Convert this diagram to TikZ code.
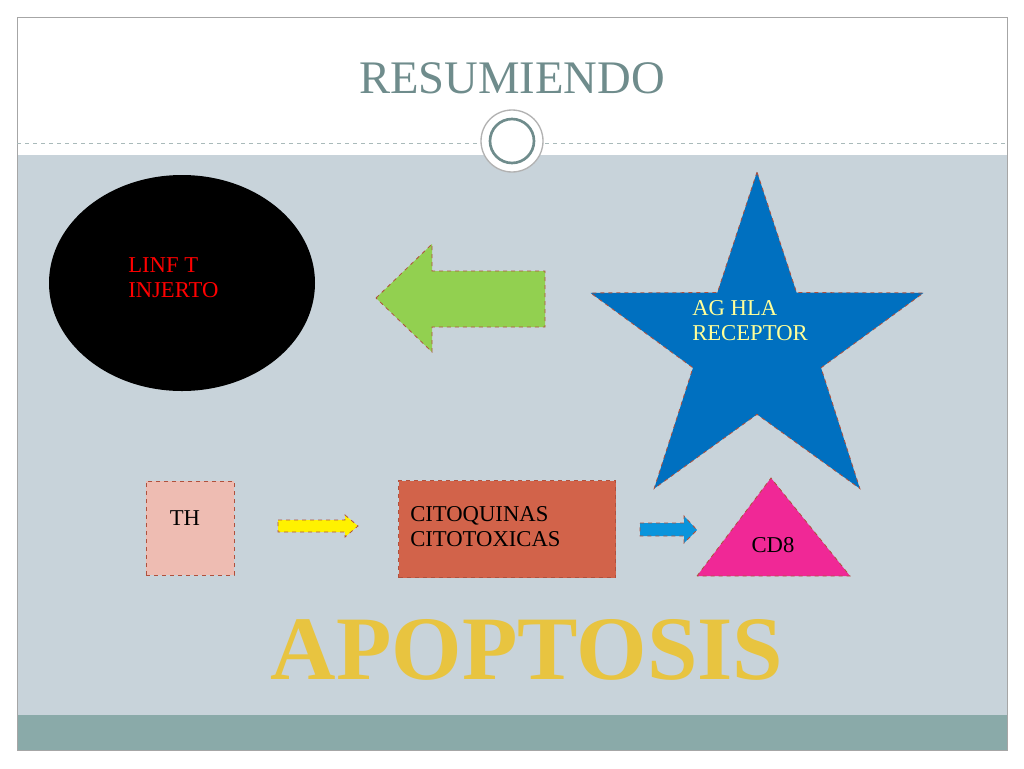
\documentclass[tikz,border=0pt]{standalone}
\usepackage{fontspec}
\setmainfont{Liberation Serif}
\usetikzlibrary{positioning, shapes.geometric}
\definecolor{titlegray}{HTML}{6F8C8C}
\definecolor{panel}{HTML}{C8D3DA}
\definecolor{band}{HTML}{8AAAA9}
\definecolor{edge}{HTML}{B0503C}
\definecolor{greenarr}{HTML}{92D050}
\definecolor{starblue}{HTML}{0070C0}
\definecolor{thpink}{HTML}{EEBCB2}
\definecolor{citored}{HTML}{D2634A}
\definecolor{cdpink}{HTML}{F02896}
\definecolor{gold}{HTML}{E8C440}
\definecolor{labyellow}{HTML}{FFFF99}
\tikzset{
  dashedge/.style={draw=edge, dashed, line width=0.6pt},
  label/.style={font=\fontsize{17}{19}\selectfont, align=left, inner sep=0pt}
}
\begin{document}
\begin{tikzpicture}[x=0.75pt, y=-0.75pt]
  \useasboundingbox (0,0) rectangle (1024,768);
  \fill[white] (0,0) rectangle (1024,768);
  % frame and panels
  \fill[panel] (17,155) rectangle (1007,715);
  \fill[band] (17,715) rectangle (1007,750);
  \draw[gray!70] (17,17) rectangle (1007,750);
  \draw[titlegray!60, dashed] (17,143) -- (1007,143);
  \node[titlegray, font=\fontsize{35}{38}\selectfont] (title) at (512,78) {RESUMIENDO};
  \draw[gray!60, fill=white, line width=1pt] (512,141) circle (31);
  \draw[titlegray, line width=2pt, fill=white] (512,141) circle (22);
  % black ellipse
  \node[ellipse, fill=black, minimum width=266*0.75pt, minimum height=216*0.75pt] (linf) at (182,283) {};
  \node[label, red, anchor=north west] (linftxt) at (128,257) {LINF T\\INJERTO};
  % green arrow
  \filldraw[fill=greenarr, dashedge] (376,298) -- (432,244) -- (432,271) -- (545,271)
     -- (545,327) -- (432,327) -- (432,352) -- cycle;
  % star
  \node[star, star points=5, star point ratio=2.6, fill=starblue, dashedge,
        minimum size=350*0.75pt, inner sep=0pt] (star) at (757,347) {};
  \node[label, labyellow, anchor=north west] (agtxt) at (692,300) {AG HLA\\RECEPTOR};
  % bottom row
  \node[fill=thpink, dashedge, minimum width=88*0.75pt, minimum height=94*0.75pt] (th) at (190,528) {};
  \node[label] (thtxt) at (185,518) {TH};
  \filldraw[fill=yellow, dashedge] (278,520) -- (345,520) -- (345,515) -- (358,526)
     -- (345,537) -- (345,532) -- (278,532) -- cycle;
  \node[fill=citored, dashedge, minimum width=217*0.75pt, minimum height=97*0.75pt] (cito) at (507,529) {};
  \node[label, anchor=north west] (citotxt) at (410,506) {CITOQUINAS\\CITOTOXICAS};
  \filldraw[fill=cyan!80!blue, dashedge] (640,523) -- (684,523) -- (684,516) -- (697,530)
     -- (684,543) -- (684,536) -- (640,536) -- cycle;
  \filldraw[fill=cdpink, dashedge] (697,576) -- (771,478) -- (850,576) -- cycle;
  \node[label] (cdtxt) at (773,545) {CD8};
  % title word
  \node[font=\fontsize{68}{70}\bfseries, text=gold, draw=none] (apo) at (527,650) {APOPTOSIS};
\end{tikzpicture}
\end{document}
